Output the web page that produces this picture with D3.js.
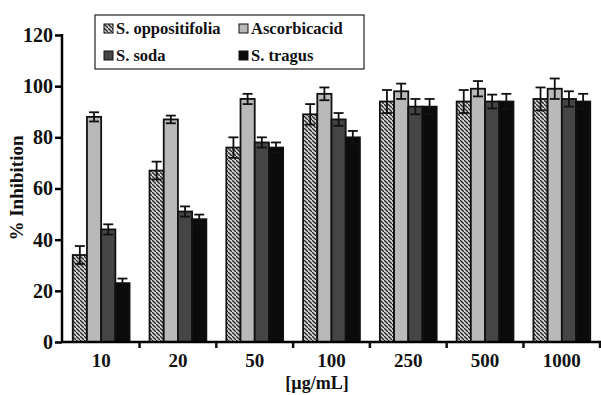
<!DOCTYPE html>
<html>
<head>
<meta charset="utf-8">
<script src="https://cdn.jsdelivr.net/npm/d3@7"></script>
<style>
  body { margin: 0; background: white; }
  text { font-family: "Liberation Serif", "Times New Roman", serif; font-weight: bold; }
</style>
</head>
<body>
<script>
var width = 601;
var height = 395;

var doses = ["10", "20", "50", "100", "250", "500", "1000"];
var series = ["S. oppositifolia", "Ascorbicacid", "S. soda", "S. tragus"];

// mean % inhibition per dose, one array per extract
var oppositifolia = [34, 67, 76, 89, 94, 94, 95];
var ascorbic      = [88, 87, 95, 97, 98, 99, 99];
var soda          = [44, 51, 78, 87, 92, 94, 95];
var tragus        = [23, 48, 76, 80, 92, 94, 94];

// error (+/-)
var oppositifoliaErr = [3.5, 3.5, 4, 4, 4.5, 4.5, 4.5];
var ascorbicErr      = [1.8, 1.5, 2, 2.5, 3, 3, 4];
var sodaErr          = [2, 2, 2, 2.5, 3, 2.7, 3];
var tragusErr        = [1.8, 1.8, 2, 2.5, 3, 3, 3];

var yTicks = [0, 20, 40, 60, 80, 100, 120];

var values = [oppositifolia, ascorbic, soda, tragus];
var errors = [oppositifoliaErr, ascorbicErr, sodaErr, tragusErr];
var fills = ["url(#hatch)", "#b9b9b9", "#454545", "#0b0b0b"];

var plotLeft = 62, plotRight = 601, plotTop = 35, plotBottom = 342;

var svg = d3.select("body").append("svg")
    .attr("width", width)
    .attr("height", height);

var defs = svg.append("defs");
var pat = defs.append("pattern")
    .attr("id", "hatch")
    .attr("patternUnits", "userSpaceOnUse")
    .attr("width", 4)
    .attr("height", 4);
pat.append("rect").attr("width", 4).attr("height", 4).attr("fill", "#cfcfcf");
pat.append("path")
    .attr("d", "M-1,-1 L1,1 M0,0 L4,4 M3,3 L5,5")
    .attr("stroke", "#2a2a2a")
    .attr("stroke-width", 1.3);

var x0 = d3.scaleBand()
    .domain(doses)
    .range([plotLeft, plotRight])
    .paddingInner(0.26)
    .paddingOuter(0.14);

var x1 = d3.scaleBand()
    .domain(d3.range(series.length))
    .range([0, x0.bandwidth()]);

var y = d3.scaleLinear()
    .domain([0, 120])
    .range([plotBottom, plotTop]);

// bars
var rows = [];
doses.forEach(function(d, i) {
    series.forEach(function(s, j) {
        rows.push({dose: d, k: j, v: values[j][i], e: errors[j][i]});
    });
});

svg.append("g").selectAll("rect")
    .data(rows)
    .join("rect")
    .attr("x", d => x0(d.dose) + x1(d.k))
    .attr("y", d => y(d.v))
    .attr("width", x1.bandwidth())
    .attr("height", d => y(0) - y(d.v))
    .attr("fill", d => fills[d.k])
    .attr("stroke", "#111")
    .attr("stroke-width", 1.8);

// error bars
var eb = svg.append("g").attr("stroke", "#111").attr("stroke-width", 1.8);
rows.forEach(function(d) {
    var cx = x0(d.dose) + x1(d.k) + x1.bandwidth() / 2;
    eb.append("line").attr("x1", cx).attr("x2", cx).attr("y1", y(d.v + d.e)).attr("y2", y(d.v - d.e));
    eb.append("line").attr("x1", cx - 5).attr("x2", cx + 5).attr("y1", y(d.v + d.e)).attr("y2", y(d.v + d.e));
    eb.append("line").attr("x1", cx - 5).attr("x2", cx + 5).attr("y1", y(d.v - d.e)).attr("y2", y(d.v - d.e));
});

// y axis
var yAxis = svg.append("g")
    .attr("transform", "translate(" + plotLeft + ",0)")
    .call(d3.axisLeft(y).tickValues(yTicks).tickSize(7).tickPadding(2));
yAxis.select(".domain").attr("stroke-width", 2.5).attr("d", "M0," + (plotTop - 1) + "V" + (plotBottom + 1));
yAxis.selectAll(".tick line").attr("stroke-width", 2.5);
yAxis.selectAll(".tick text")
    .attr("font-size", 20)
    .attr("font-family", "Liberation Serif, serif")
    .attr("font-weight", "bold")
    .attr("fill", "#111");

// x axis
var xAxis = svg.append("g")
    .attr("transform", "translate(0," + plotBottom + ")")
    .call(d3.axisBottom(x0).tickSize(0).tickPadding(12));
xAxis.select(".domain").attr("stroke-width", 2.5).attr("d", "M" + plotLeft + ",0H" + plotRight);
xAxis.selectAll(".tick text")
    .attr("font-size", 19)
    .attr("font-family", "Liberation Serif, serif")
    .attr("font-weight", "bold")
    .attr("fill", "#111");

var step = x0.step();
var bounds = doses.slice(1).map(d => x0(d) - step * x0.paddingInner() / 2);
bounds.push(plotRight - 1);
xAxis.selectAll(".sep")
    .data(bounds)
    .join("line")
    .attr("x1", d => d).attr("x2", d => d)
    .attr("y1", 0).attr("y2", 6)
    .attr("stroke", "#111")
    .attr("stroke-width", 2.5);

// axis titles
svg.append("text")
    .attr("transform", "translate(23,188) rotate(-90)")
    .attr("text-anchor", "middle")
    .attr("font-size", 19)
    .attr("fill", "#111")
    .text("% Inhibition");

svg.append("text")
    .attr("x", 317)
    .attr("y", 389)
    .attr("text-anchor", "middle")
    .attr("font-size", 18)
    .attr("fill", "#111")
    .text("[µg/mL]");

// legend
var lg = svg.append("g");
lg.append("rect")
    .attr("x", 95).attr("y", 15)
    .attr("width", 269).attr("height", 54)
    .attr("fill", "white")
    .attr("stroke", "#222")
    .attr("stroke-width", 1.2);

var legPos = [[104, 29], [239, 29], [104, 56], [239, 56]];
series.forEach(function(s, j) {
    lg.append("rect")
        .attr("x", legPos[j][0]).attr("y", legPos[j][1] - 5)
        .attr("width", 9).attr("height", 9)
        .attr("fill", fills[j])
        .attr("stroke", "#111")
        .attr("stroke-width", 1);
    lg.append("text")
        .attr("x", legPos[j][0] + 12)
        .attr("y", legPos[j][1] + 5)
        .attr("font-size", 16.5)
        .attr("fill", "#111")
        .text(s);
});
</script>
</body>
</html>
